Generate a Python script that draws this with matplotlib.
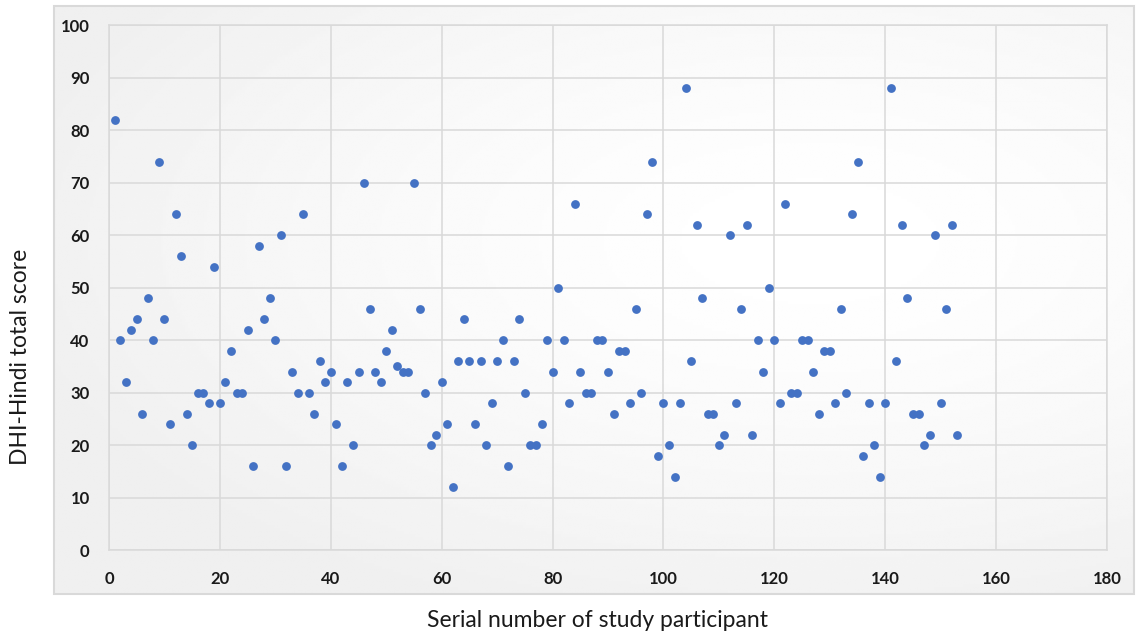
import matplotlib.pyplot as plt
import numpy as np
from matplotlib.patches import Rectangle

# DHI-Hindi total score per study participant (serial 1..153)
scores = [82, 40, 32, 42, 44, 26, 48, 40, 74, 44,
          24, 64, 56, 26, 20, 30, 30, 28, 54, 28,
          32, 38, 30, 30, 42, 16, 58, 44, 48, 40,
          60, 16, 34, 30, 64, 30, 26, 36, 32, 34,
          24, 16, 32, 20, 34, 70, 46, 34, 32, 38,
          42, 35, 34, 34, 70, 46, 30, 20, 22, 32,
          24, 12, 36, 44, 36, 24, 36, 20, 28, 36,
          40, 16, 36, 44, 30, 20, 20, 24, 40, 34,
          50, 40, 28, 66, 34, 30, 30, 40, 40, 34,
          26, 38, 38, 28, 46, 30, 64, 74, 18, 28,
          20, 14, 28, 88, 36, 62, 48, 26, 26, 20,
          22, 60, 28, 46, 62, 22, 40, 34, 50, 40,
          28, 66, 30, 30, 40, 40, 34, 26, 38, 38,
          28, 46, 30, 64, 74, 18, 28, 20, 14, 28,
          88, 36, 62, 48, 26, 26, 20, 22, 60, 28,
          46, 62, 22]
serial = list(range(1, len(scores) + 1))

x_ticks = [0, 20, 40, 60, 80, 100, 120, 140, 160, 180]
y_ticks = [0, 10, 20, 30, 40, 50, 60, 70, 80, 90, 100]

plt.rcParams['font.family'] = ['Lato', 'DejaVu Sans']

fig = plt.figure(figsize=(11.36, 6.38), dpi=100)
fig.patch.set_facecolor('white')

# chart panel with soft radial gradient
bg = fig.add_axes([0.0475, 0.069, 0.951, 0.9216])
yy, xx = np.mgrid[0:1:200j, 0:1:400j]
r = np.sqrt(((xx - 0.7) / 1.0) ** 2 + ((yy - 0.4) / 0.9) ** 2)
shade = 1.0 - 0.06 * np.clip(r / 0.75, 0, 1) ** 1.5
bg.imshow(shade, cmap='gray', vmin=0, vmax=1, aspect='auto',
          extent=[0, 1, 0, 1], interpolation='bilinear')
bg.add_patch(Rectangle((0, 0), 1, 1, transform=bg.transAxes, fill=False,
                       edgecolor='#d9d9d9', linewidth=1.5, clip_on=False))
bg.set_axis_off()

ax = fig.add_axes([0.0960, 0.1379, 0.8785, 0.8229])
ax.patch.set_alpha(0)
ax.scatter(serial, scores, s=40, color='#4472C4', zorder=3, linewidths=0)

ax.set_xlim(0, 180)
ax.set_ylim(0, 100)
ax.set_xticks(x_ticks)
ax.set_yticks(y_ticks)
ax.grid(True, color='#d9d9d9', linewidth=1.1)
ax.set_axisbelow(True)
for s in ax.spines.values():
    s.set_color('#d9d9d9')
    s.set_linewidth(1.1)
ax.tick_params(length=0, labelsize=12, colors='#1a1a1a')
ax.tick_params(axis='x', pad=15)
ax.tick_params(axis='y', pad=14)
for lab in ax.get_xticklabels() + ax.get_yticklabels():
    lab.set_fontweight('bold')

fig.text(0.526, 0.028, 'Serial number of study participant', ha='center',
         va='center', fontsize=16.5, color='#1a1a1a')
fig.text(0.018, 0.44, 'DHI-Hindi total score', ha='center', va='center',
         rotation=90, fontsize=16.5, color='#1a1a1a')

fig.savefig('out.png', dpi=100)
